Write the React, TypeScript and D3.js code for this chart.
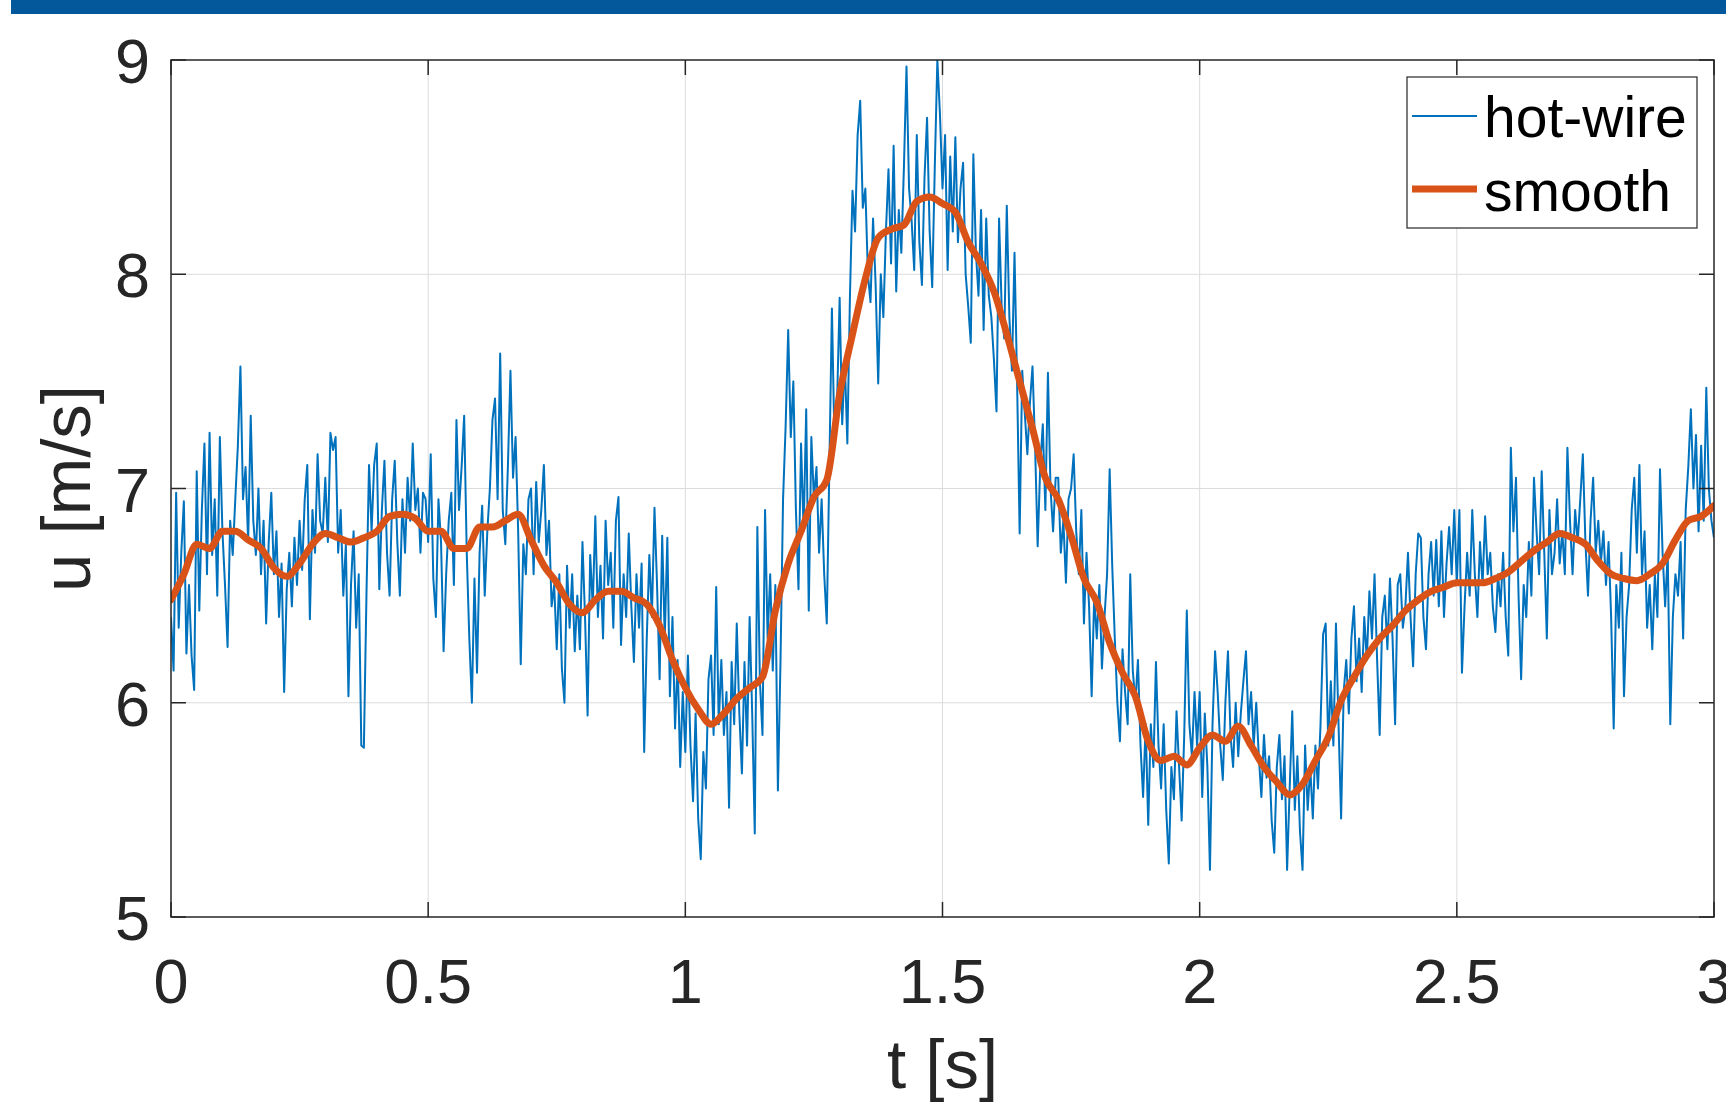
import * as d3 from 'd3';

// hot-wire samples, dt = 0.005 s, t = 0 .. 3 s
const hotWire = [
  6.40, 6.15, 6.98, 6.35, 6.70, 6.94, 6.23, 6.55, 6.22, 6.06, 7.08, 6.43, 6.90, 7.21, 6.60, 7.26, 6.69, 6.95, 6.50, 7.24,
  6.80, 6.55, 6.26, 6.85, 6.69, 6.95, 7.20, 7.57, 6.95, 7.10, 6.75, 7.34, 6.85, 6.69, 7.00, 6.60, 6.85, 6.37, 6.75, 6.98,
  6.60, 6.80, 6.40, 6.65, 6.05, 6.53, 6.70, 6.45, 6.77, 6.55, 6.85, 6.62, 6.95, 7.11, 6.39, 6.90, 6.70, 7.16, 6.85, 6.79,
  7.05, 6.75, 7.26, 7.18, 7.24, 6.70, 6.90, 6.50, 6.74, 6.03, 6.55, 6.80, 6.35, 6.60, 5.80, 5.79, 6.50, 7.11, 6.80, 7.11,
  7.21, 6.53, 6.90, 7.13, 6.70, 6.50, 6.95, 7.13, 6.75, 6.50, 6.95, 6.70, 7.05, 6.85, 7.21, 6.90, 7.00, 6.70, 6.98, 6.95,
  6.75, 7.16, 6.58, 6.40, 6.95, 6.75, 6.24, 6.60, 6.85, 6.98, 6.55, 7.32, 6.90, 7.10, 7.34, 6.70, 6.30, 6.00, 6.58, 6.14,
  6.70, 6.92, 6.50, 6.80, 7.00, 7.32, 7.42, 6.95, 7.63, 6.90, 6.74, 7.10, 7.55, 7.05, 7.24, 6.80, 6.18, 6.74, 6.60, 6.95,
  7.00, 6.60, 7.03, 6.75, 6.90, 7.11, 6.69, 6.85, 6.45, 6.55, 6.25, 6.60, 6.16, 6.00, 6.64, 6.35, 6.60, 6.24, 6.50, 6.25,
  6.75, 6.40, 5.94, 6.69, 6.45, 6.87, 6.40, 6.64, 6.30, 6.85, 6.55, 6.70, 6.35, 6.85, 6.96, 6.27, 6.60, 6.40, 6.79, 6.45,
  6.19, 6.60, 6.35, 6.65, 5.77, 6.30, 6.69, 6.40, 6.91, 6.55, 6.11, 6.78, 6.30, 6.77, 6.03, 6.40, 5.88, 6.20, 5.70, 6.05,
  5.77, 6.22, 5.80, 5.54, 5.95, 5.46, 5.27, 5.77, 5.60, 6.11, 6.22, 5.85, 6.54, 5.90, 6.20, 5.85, 6.05, 5.51, 6.19, 5.90,
  6.37, 5.95, 5.67, 6.19, 5.80, 6.40, 5.95, 5.39, 6.82, 6.10, 5.85, 6.90, 6.30, 6.60, 6.15, 6.55, 5.59, 6.19, 6.95, 7.29,
  7.74, 7.24, 7.50, 6.90, 6.53, 7.21, 6.80, 7.37, 6.43, 7.24, 6.95, 7.10, 6.70, 6.95, 6.60, 6.37, 7.10, 7.84, 7.21, 7.40,
  7.89, 7.30, 7.60, 7.21, 7.89, 8.39, 8.20, 8.65, 8.81, 8.31, 8.40, 8.00, 7.87, 8.26, 7.95, 7.49, 8.00, 7.80, 8.20, 8.49,
  8.05, 8.60, 7.92, 8.30, 8.10, 8.50, 8.97, 8.40, 8.25, 8.02, 8.65, 8.15, 7.95, 8.45, 8.73, 8.20, 7.94, 8.50, 9.00, 8.75,
  8.40, 8.65, 8.02, 8.55, 8.20, 8.64, 8.15, 8.40, 8.52, 8.00, 7.85, 7.68, 8.56, 8.10, 7.90, 8.30, 7.74, 8.26, 7.90, 7.80,
  7.60, 7.36, 8.26, 7.85, 7.70, 8.32, 7.80, 7.55, 8.10, 7.50, 6.79, 7.55, 7.35, 7.16, 7.40, 7.57, 7.20, 6.73, 7.10, 7.30,
  6.90, 7.54, 7.00, 6.80, 7.05, 7.05, 6.70, 6.85, 6.56, 6.95, 7.00, 7.16, 6.80, 6.60, 6.90, 6.37, 6.70, 6.45, 6.03, 6.50,
  6.30, 6.55, 6.16, 6.40, 6.60, 7.09, 6.64, 6.30, 6.00, 5.82, 6.25, 6.05, 5.90, 6.60, 6.15, 6.00, 6.20, 5.80, 5.56, 5.90,
  5.43, 5.90, 5.70, 6.19, 5.80, 5.60, 5.90, 5.50, 5.25, 5.70, 5.55, 5.96, 5.70, 5.45, 5.85, 6.43, 5.90, 5.75, 6.05, 5.80,
  6.05, 5.56, 5.95, 5.70, 5.22, 5.90, 6.24, 6.05, 5.80, 5.64, 6.00, 6.24, 5.85, 5.70, 6.00, 5.75, 5.95, 6.10, 6.24, 5.90,
  6.05, 5.80, 6.00, 5.75, 5.56, 5.85, 5.65, 5.75, 5.45, 5.30, 5.70, 5.85, 5.55, 5.75, 5.22, 5.60, 5.96, 5.50, 5.75, 5.40,
  5.22, 5.80, 5.50, 5.70, 5.46, 5.80, 5.60, 5.90, 6.32, 6.37, 5.80, 6.10, 5.80, 6.37, 5.90, 5.46, 6.05, 6.20, 5.95, 6.30,
  6.45, 6.10, 6.30, 6.05, 6.40, 6.20, 6.52, 6.30, 6.60, 6.20, 5.85, 6.40, 6.50, 6.25, 6.58, 6.30, 5.90, 6.55, 6.60, 6.35,
  6.45, 6.70, 6.40, 6.17, 6.60, 6.79, 6.77, 6.40, 6.25, 6.60, 6.75, 6.50, 6.76, 6.45, 6.80, 6.40, 6.65, 6.82, 6.60, 6.90,
  6.55, 6.90, 6.14, 6.45, 6.70, 6.50, 6.90, 6.60, 6.40, 6.75, 6.55, 6.87, 6.60, 6.70, 6.45, 6.33, 6.60, 6.45, 6.70, 6.40,
  6.22, 7.19, 6.80, 7.05, 6.50, 6.11, 6.55, 6.40, 6.75, 6.50, 7.05, 6.80, 6.60, 7.08, 6.70, 6.30, 6.90, 6.60, 6.70, 6.95,
  6.65, 6.80, 6.60, 7.19, 6.85, 6.60, 6.90, 6.75, 6.95, 7.16, 6.75, 6.50, 6.85, 7.05, 6.70, 6.85, 6.65, 6.80, 6.55, 6.75,
  6.40, 5.88, 6.55, 6.35, 6.70, 6.03, 6.40, 6.55, 6.90, 7.05, 6.70, 7.11, 6.60, 6.80, 6.35, 6.55, 6.25, 6.60, 6.40, 7.09,
  6.70, 6.45, 6.70, 5.90, 6.40, 6.60, 6.50, 6.75, 6.30, 6.90, 7.10, 7.37, 7.00, 7.25, 6.80, 7.20, 6.85, 7.47, 7.00, 6.85,
  6.77,
];
const hotWireDt = 0.005;

// smoothed signal, dt = 0.025 s
const smooth = [
  6.48, 6.60, 6.74, 6.72, 6.80, 6.80, 6.76, 6.72, 6.63, 6.59, 6.65, 6.74, 6.79, 6.77, 6.75, 6.77, 6.80, 6.87, 6.88, 6.86,
  6.80, 6.80, 6.72, 6.72, 6.82, 6.82, 6.85, 6.88, 6.76, 6.64, 6.56, 6.46, 6.42, 6.48, 6.52, 6.52, 6.49, 6.46, 6.36, 6.20,
  6.07, 5.97, 5.90, 5.95, 6.02, 6.07, 6.12, 6.43, 6.65, 6.80, 6.96, 7.04, 7.44, 7.72, 7.98, 8.17, 8.21, 8.23, 8.34, 8.36,
  8.33, 8.29, 8.15, 8.05, 7.92, 7.72, 7.50, 7.28, 7.05, 6.95, 6.78, 6.58, 6.47, 6.28, 6.14, 6.03, 5.82, 5.73, 5.75, 5.71,
  5.79, 5.85, 5.82, 5.89, 5.80, 5.70, 5.63, 5.57, 5.62, 5.73, 5.84, 6.01, 6.12, 6.22, 6.30, 6.36, 6.43, 6.48, 6.52, 6.54,
  6.56, 6.56, 6.56, 6.58, 6.61, 6.66, 6.71, 6.75, 6.79, 6.77, 6.74, 6.66, 6.60, 6.58, 6.57, 6.60, 6.65, 6.76, 6.85, 6.87,
  6.92,
];
const smoothDt = 0.025;

const xTicks = [0, 0.5, 1, 1.5, 2, 2.5, 3];
const yTicks = [5, 6, 7, 8, 9];
const seriesNames = ['hot-wire', 'smooth'];

const W = 1726;
const H = 1102;
const left = 171;
const right = 1714;
const top = 60;
const bottom = 917;
const FONT = '"Liberation Sans", Arial, Helvetica, sans-serif';
const BLUE = '#0072BD';
const ORANGE = '#D95319';
const AX = '#262626';

export default function App() {
  const x = d3.scaleLinear().domain([0, 3]).range([left, right]);
  const y = d3.scaleLinear().domain([5, 9]).range([bottom, top]);

  const hotLine = d3.line<number>().x((_, i) => x(i * hotWireDt)).y(d => y(d));
  const smoothLine = d3.line<number>().x((_, i) => x(i * smoothDt)).y(d => y(d)).curve(d3.curveMonotoneX);

  const tick = 15;

  return (
    <svg width={W} height={H} style={{ position: 'fixed', left: 0, top: 0, background: '#fff' }}>
      <rect x={11} y={0} width={W - 11} height={14} fill="#03579b" />
      <defs>
        <clipPath id="plot">
          <rect x={left} y={top} width={right - left} height={bottom - top} />
        </clipPath>
      </defs>

      {/* grid */}
      <g stroke="#dcdcdc" strokeWidth={1}>
        {xTicks.slice(1, -1).map(t => (
          <line key={'gx' + t} x1={x(t)} x2={x(t)} y1={top} y2={bottom} />
        ))}
        {yTicks.slice(1, -1).map(t => (
          <line key={'gy' + t} x1={left} x2={right} y1={y(t)} y2={y(t)} />
        ))}
      </g>

      <g clipPath="url(#plot)" fill="none" strokeLinejoin="round">
        <path d={hotLine(hotWire) ?? ''} stroke={BLUE} strokeWidth={2} />
        <path d={smoothLine(smooth) ?? ''} stroke={ORANGE} strokeWidth={7} strokeLinecap="round" />
      </g>

      {/* box + ticks */}
      <rect x={left} y={top} width={right - left} height={bottom - top} fill="none" stroke={AX} strokeWidth={1.5} />
      <g stroke={AX} strokeWidth={1.5}>
        {xTicks.map(t => (
          <g key={'tx' + t}>
            <line x1={x(t)} x2={x(t)} y1={bottom} y2={bottom - tick} />
            <line x1={x(t)} x2={x(t)} y1={top} y2={top + tick} />
          </g>
        ))}
        {yTicks.map(t => (
          <g key={'ty' + t}>
            <line x1={left} x2={left + tick} y1={y(t)} y2={y(t)} />
            <line x1={right} x2={right - tick} y1={y(t)} y2={y(t)} />
          </g>
        ))}
      </g>

      <g fontFamily={FONT} fontSize={63} fill={AX}>
        {xTicks.map(t => (
          <text key={'lx' + t} x={x(t)} y={1003} textAnchor="middle">{String(t)}</text>
        ))}
        {yTicks.map(t => (
          <text key={'ly' + t} x={left - 21} y={y(t) + 23} textAnchor="end">{String(t)}</text>
        ))}
      </g>

      <text x={(left + right) / 2} y={1088} textAnchor="middle" fontFamily={FONT} fontSize={69} fill={AX}>t [s]</text>
      <text transform={`translate(90, ${(top + bottom) / 2}) rotate(-90)`} textAnchor="middle" fontFamily={FONT} fontSize={69} fill={AX}>u [m/s]</text>

      {/* legend */}
      <g>
        <rect x={1407} y={77} width={290} height={151} fill="#fff" stroke={AX} strokeWidth={1.2} />
        <line x1={1412} x2={1477} y1={116} y2={116} stroke={BLUE} strokeWidth={2} />
        <line x1={1412} x2={1477} y1={189} y2={189} stroke={ORANGE} strokeWidth={7} />
        <text x={1484} y={137} fontFamily={FONT} fontSize={57} fill="#000">{seriesNames[0]}</text>
        <text x={1484} y={211} fontFamily={FONT} fontSize={57} fill="#000">{seriesNames[1]}</text>
      </g>
    </svg>
  );
}
